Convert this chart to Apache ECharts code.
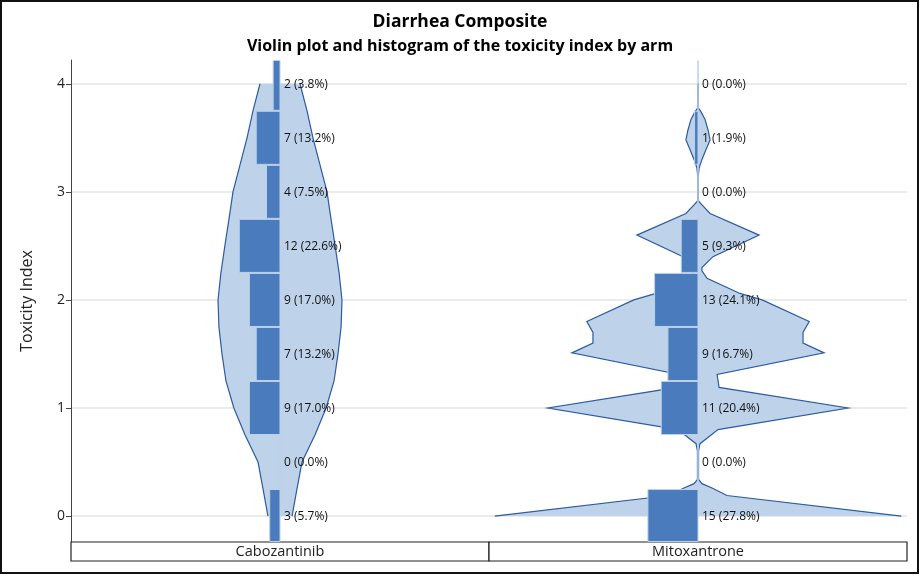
<!DOCTYPE html>
<html>
<head>
<meta charset="utf-8">
<script src="https://cdn.jsdelivr.net/npm/echarts@6/dist/echarts.min.js"></script>
<style>
html, body { margin: 0; padding: 0; background: #fff; }
#chart { width: 920px; height: 578px; }
</style>
</head>
<body>
<div id="chart"></div>
<script>
// histogram bins of the toxicity index (centres), top to bottom
var bins = [4, 3.5, 3, 2.5, 2, 1.5, 1, 0.5, 0];
var arms = ['Cabozantinib', 'Mitoxantrone'];
var caboCounts = [2, 7, 4, 12, 9, 7, 9, 0, 3];
var caboPct = [3.8, 13.2, 7.5, 22.6, 17.0, 13.2, 17.0, 0.0, 5.7];
var mitoCounts = [0, 1, 0, 5, 13, 9, 11, 0, 15];
var mitoPct = [0.0, 1.9, 0.0, 9.3, 24.1, 16.7, 20.4, 0.0, 27.8];

// violin half widths (same scale as the percent bars)
var caboViolinY = [0, 0.25, 0.5, 0.75, 1, 1.25, 1.5, 1.75, 2, 2.25, 2.5, 2.75, 3, 3.25, 3.5, 3.75, 4];
var caboViolinW = [6.7, 9.4, 12.2, 19.4, 25.6, 30, 32.2, 33.9, 34.4, 32.8, 30.6, 28.3, 26.1, 22.2, 18.3, 15, 11.1];
var mitoViolinY = [4, 3.78, 3.74, 3.67, 3.57, 3.48, 3.39, 3.30, 3.22, 3.12, 2.92, 2.88, 2.80, 2.60, 2.40, 2.30, 2.27, 2.20, 2.06, 2.00,
  1.80, 1.70, 1.60, 1.51, 1.31, 1.19, 1.00, 0.80, 0.72, 0.67, 0.60, 0.34, 0.30, 0.26, 0.19, 0];
var mitoViolinW = [0, 0, 1.7, 3.9, 5.6, 6.7, 4.4, 2.2, 0.6, 0, 0, 2.2, 6.7, 33.9, 8.3, 2.2, 2.2, 5, 23.3, 35.6,
  61.7, 58.3, 58.3, 70, 10.6, 11.7, 83.3, 11.1, 5, 1.1, 0.3, 0.3, 2.2, 7.8, 16.1, 112.8];

var yTicks = [0, 1, 2, 3, 4];
var yMin = -0.24, yMax = 4.22;
var binHalf = 0.25;

var fillColor = '#bed3ea';
var lineColor = '#2c5b9e';
var barColor = '#4a7cbd';

function violinSeries(idx, ys, ws) {
    return {
        type: 'custom',
        xAxisIndex: idx,
        yAxisIndex: idx,
        clip: true,
        silent: true,
        z: 2,
        data: [0],
        renderItem: function (params, api) {
            var right = [], left = [];
            for (var i = 0; i < ys.length; i++) {
                right.push(api.coord([ws[i], ys[i]]));
                left.push(api.coord([-ws[i], ys[i]]));
            }
            var poly = right.concat(left.slice().reverse());
            return {
                type: 'group',
                children: [
                    { type: 'polygon', shape: { points: poly }, style: { fill: fillColor, stroke: null } },
                    { type: 'polyline', shape: { points: right }, style: { fill: 'none', stroke: lineColor, lineWidth: 1.2 } },
                    { type: 'polyline', shape: { points: left }, style: { fill: 'none', stroke: lineColor, lineWidth: 1.2 } }
                ]
            };
        }
    };
}

function histSeries(idx, counts, pct) {
    var rows = bins.map(function (b, i) { return [b, pct[i], counts[i]]; });
    return {
        type: 'custom',
        xAxisIndex: idx,
        yAxisIndex: idx,
        clip: true,
        silent: true,
        z: 3,
        data: rows,
        renderItem: function (params, api) {
            var b = api.value(0), p = api.value(1), c = api.value(2);
            var top = Math.min(b + binHalf, yMax);
            var bot = Math.max(b - binHalf, yMin);
            var p1 = api.coord([-p, top]);
            var p2 = api.coord([0, bot]);
            var mid = api.coord([0, b]);
            return {
                type: 'group',
                children: [
                    {
                        type: 'rect',
                        shape: { x: p1[0], y: p1[1] + 0.5, width: p2[0] - p1[0], height: p2[1] - p1[1] - 1 },
                        style: { fill: barColor, stroke: '#bcd0e9', lineWidth: 1 }
                    },
                    {
                        type: 'text',
                        z2: 10,
                        style: {
                            text: c + ' (' + p.toFixed(1) + '%)',
                            x: mid[0] + 4,
                            y: mid[1] + 1,
                            align: 'left',
                            verticalAlign: 'middle',
                            fill: '#111',
                            fontSize: 12,
                            fontFamily: '"Open Sans"'
                        }
                    }
                ]
            };
        }
    };
}

var chart = echarts.init(document.getElementById('chart'));
chart.setOption({
    animation: false,
    backgroundColor: '#fff',
    title: [
        { text: 'Diarrhea Composite', left: 'center', top: 8,
          textStyle: { fontSize: 17.5, fontWeight: 'bold', color: '#000', fontFamily: '"Open Sans"' } },
        { text: 'Violin plot and histogram of the toxicity index by arm', left: 'center', top: 33,
          textStyle: { fontSize: 16, fontWeight: 'bold', color: '#000', fontFamily: '"Open Sans"' } }
    ],
    grid: [
        { left: 71, top: 60, width: 418, height: 482 },
        { left: 489, top: 60, width: 418, height: 482 }
    ],
    xAxis: [
        { type: 'value', gridIndex: 0, min: -116, max: 116, show: false },
        { type: 'value', gridIndex: 1, min: -116, max: 116, show: false }
    ],
    yAxis: [
        {
            type: 'value', gridIndex: 0, min: yMin, max: yMax,
            name: 'Toxicity Index', nameLocation: 'middle', nameGap: 36,
            nameTextStyle: { fontSize: 16, color: '#222', fontFamily: '"Open Sans"' },
            axisLine: { show: true, onZero: false, lineStyle: { color: '#444', width: 1 } },
            axisTick: { show: true, length: 5, customValues: yTicks, lineStyle: { color: '#444' } },
            axisLabel: { customValues: yTicks, fontSize: 14, color: '#222', margin: 6, fontFamily: '"Open Sans"' },
            splitLine: { show: true, lineStyle: { color: '#e4e4e4', width: 1.5 } }
        },
        {
            type: 'value', gridIndex: 1, min: yMin, max: yMax,
            axisLine: { show: false, onZero: false },
            axisTick: { show: false, customValues: yTicks },
            axisLabel: { show: false, customValues: yTicks },
            splitLine: { show: true, lineStyle: { color: '#e4e4e4', width: 1.5 } }
        }
    ],
    graphic: [
        { type: 'rect', shape: { x: 71, y: 542, width: 418, height: 19 },
          style: { fill: '#fff', stroke: '#222', lineWidth: 1.2 } },
        { type: 'rect', shape: { x: 489, y: 542, width: 418, height: 19 },
          style: { fill: '#fff', stroke: '#222', lineWidth: 1.2 } },
        { type: 'text', x: 280, y: 552,
          style: { text: arms[0], align: 'center', verticalAlign: 'middle', fontSize: 14.5, fill: '#222', fontFamily: '"Open Sans"' } },
        { type: 'text', x: 698, y: 552,
          style: { text: arms[1], align: 'center', verticalAlign: 'middle', fontSize: 14.5, fill: '#222', fontFamily: '"Open Sans"' } },
        { type: 'rect', shape: { x: 1, y: 1, width: 917, height: 572 },
          style: { fill: 'none', stroke: '#111', lineWidth: 2 } }
    ],
    series: [
        violinSeries(0, caboViolinY, caboViolinW),
        violinSeries(1, mitoViolinY, mitoViolinW),
        histSeries(0, caboCounts, caboPct),
        histSeries(1, mitoCounts, mitoPct)
    ]
});
</script>
</body>
</html>
